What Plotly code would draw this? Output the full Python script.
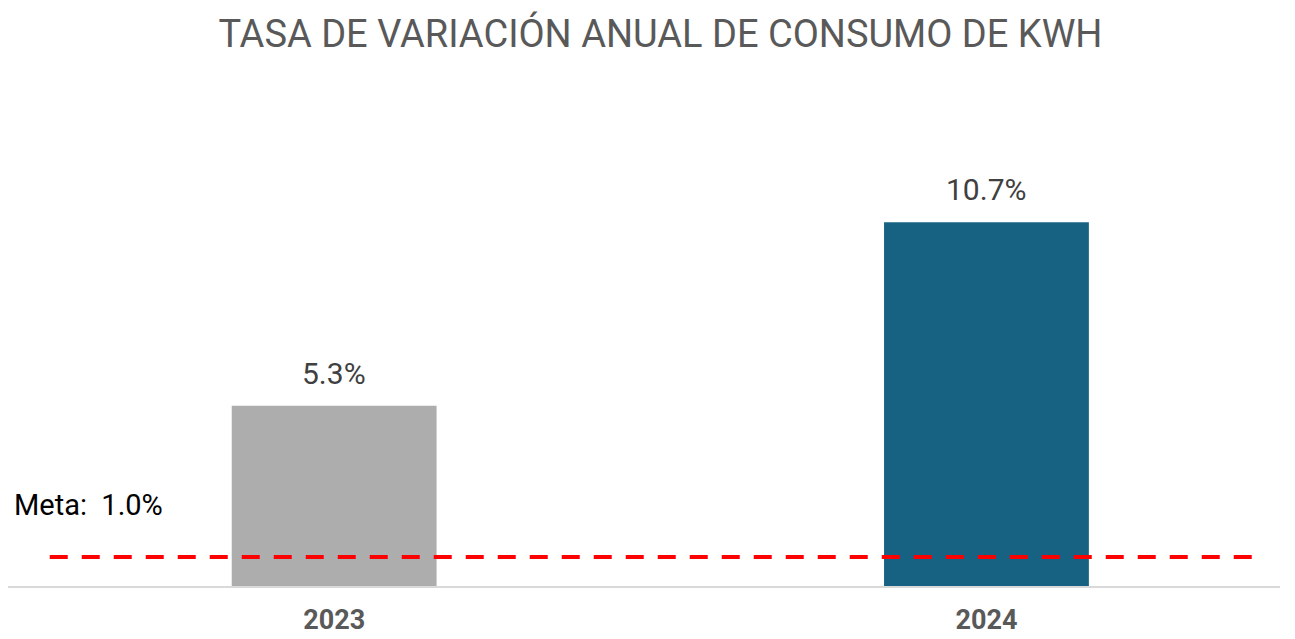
import plotly.graph_objects as go

# ---- data ----
years = ["2023", "2024"]
variation = [5.3, 10.7]
bar_colors = ["#ADADAD", "#176183"]
meta_value = 1.0
title_text = "TASA DE VARIACIÓN ANUAL DE CONSUMO DE KWH"

W, H = 1295, 639
xpos = list(range(len(years)))

fig = go.Figure()
fig.add_trace(go.Bar(
    x=xpos, y=variation, marker=dict(color=bar_colors, line=dict(width=0)),
    width=0.314, showlegend=False, hoverinfo="skip",
))

# meta line drawn across the chart on a secondary value axis
meta_x_span = [-0.436, 1.41]
fig.add_trace(go.Scatter(
    x=meta_x_span, y=[meta_value] * 2, mode="lines", yaxis="y2",
    line=dict(color="#FF0000", width=4, dash="18px,14px"),
    showlegend=False, hoverinfo="skip",
))

for xv, v in zip(xpos, variation):
    fig.add_annotation(
        x=xv, y=v, xref="x", yref="y", text=f"{v:.1f}%", showarrow=False,
        yanchor="bottom", yshift=13,
        font=dict(family="Roboto", size=30, color="#404040"),
    )

fig.add_annotation(
    x=0.0035, y=meta_value, xref="paper", yref="y2", text=f"Meta:  {meta_value:.1f}%",
    showarrow=False, xanchor="left", yanchor="middle", yshift=52,
    font=dict(family="Roboto", size=29, color="#000000"),
)

fig.update_layout(
    width=W, height=H,
    margin=dict(l=8, r=15, t=70, b=53),
    paper_bgcolor="white", plot_bgcolor="white",
    title=dict(text=title_text, x=0.51, xanchor="center", y=1 - 34 / H, yanchor="middle",
               yref="container",
               font=dict(family="Roboto", size=38, color="#595959")),
    xaxis=dict(
        range=[-0.5, 1.45], tickvals=xpos, ticktext=[f"<b>{y}</b>" for y in years],
        showgrid=False, zeroline=False, showline=True, linecolor="#D9D9D9", linewidth=2,
        ticks="", ticklabelstandoff=9, automargin=False,
        tickfont=dict(family="Roboto", size=27, color="#595959"),
    ),
    yaxis=dict(range=[0, 15.18], visible=False, showgrid=False, zeroline=False, automargin=False),
    yaxis2=dict(range=[0, 17.8], overlaying="y", visible=False, showgrid=False, zeroline=False),
)

fig.write_html("out.html", config={"displayModeBar": False},
               post_script="document.body.style.margin='0';")
